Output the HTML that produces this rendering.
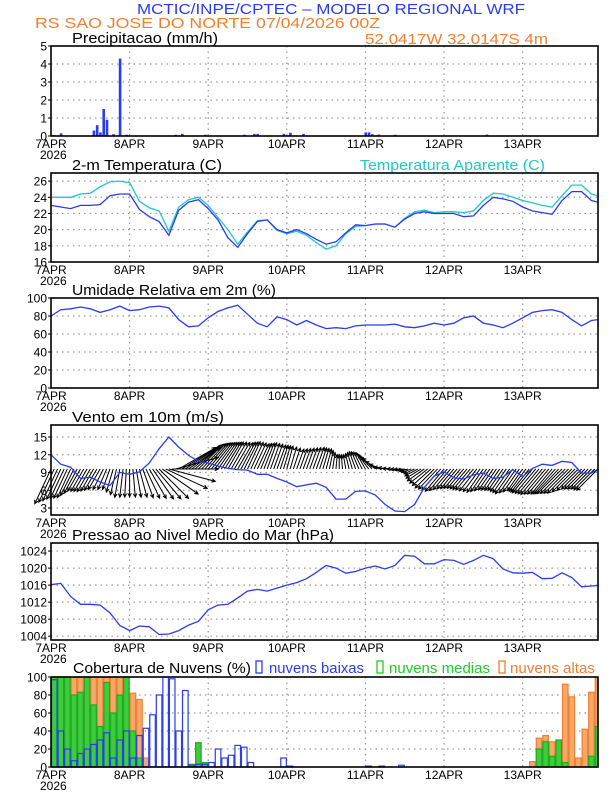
<!DOCTYPE html>
<html><head><meta charset="utf-8"><style>
html,body{margin:0;padding:0;background:#fff;}
svg{display:block;font-family:"Liberation Sans",sans-serif;}
</style></head><body>
<svg id="chart" width="612" height="792" viewBox="0 0 612 792">
<text x="331" y="14" text-anchor="middle" font-size="15" fill="#2a3cf0" textLength="388" lengthAdjust="spacingAndGlyphs">MCTIC/INPE/CPTEC – MODELO REGIONAL WRF</text>
<text x="35" y="28" font-size="15" fill="#f08030" textLength="345" lengthAdjust="spacingAndGlyphs">RS SAO JOSE DO NORTE   07/04/2026 00Z</text>
<text x="365" y="44" font-size="15" fill="#f08030" textLength="183" lengthAdjust="spacingAndGlyphs">52.0417W 32.0147S 4m</text>
</svg>
<script>
// ---- data (3-hourly, 0..168 h) ----
const tempVals=[23.0,22.8,22.6,23.0,23.0,23.1,24.2,24.4,24.4,22.5,21.6,21.0,19.3,22.4,23.4,23.7,22.6,21.2,19.0,17.8,19.5,21.0,21.2,20.0,19.6,20.0,19.5,18.8,18.2,18.5,19.6,20.6,20.5,20.7,20.7,20.3,21.3,22.0,22.2,22.0,22.0,22.0,21.6,21.7,23.0,24.0,23.8,23.5,22.8,22.3,22.1,21.9,23.6,24.7,24.7,23.6,23.4];
const appTempVals=[24.0,24.0,24.0,24.4,24.5,25.3,25.9,26.0,25.8,23.5,22.7,22.3,19.8,22.8,23.7,24.0,23.0,21.5,20.0,18.2,19.7,21.1,21.2,19.9,19.5,19.8,19.3,18.4,17.6,18.0,19.5,20.4,20.5,20.7,20.7,20.3,21.4,22.2,22.4,22.1,22.2,22.2,22.1,22.3,23.6,24.5,24.4,24.0,23.6,23.3,23.0,22.8,24.2,25.5,25.5,24.4,24.2];
const rhVals=[80,87,88,90,88,84,87,91,86,87,90,91,89,76,68,69,78,85,89,92,82,72,68,79,76,70,75,70,66,67,66,69,70,70,70,71,68,67,69,72,70,72,78,80,72,70,67,72,78,84,86,87,84,76,69,75,76];
const presVals=[1016.1,1016.4,1013.3,1011.5,1011.5,1011.3,1009.5,1006.5,1005.3,1006.4,1006.2,1004.4,1004.5,1005.3,1006.6,1007.5,1010.2,1011.3,1011.5,1013.0,1014.6,1015.0,1014.6,1015.3,1016.0,1016.6,1017.5,1019.0,1020.6,1020.0,1018.8,1019.2,1020.0,1020.5,1019.8,1020.6,1023.0,1022.8,1021.0,1021.0,1022.0,1021.8,1020.9,1021.8,1023.0,1022.2,1019.8,1018.9,1018.8,1019.0,1017.5,1017.6,1018.9,1017.8,1015.6,1015.8,1015.9];
const windSpd=[12.0,10.4,9.9,8.0,8.2,7.4,6.8,9.0,8.7,9.1,10.6,13.0,15.0,13.3,11.9,10.9,10.6,10.1,9.7,9.5,9.4,8.7,8.7,8.0,7.4,6.6,6.9,7.2,6.5,4.5,4.5,5.8,5.9,5.2,3.6,2.5,2.4,3.6,6.5,8.4,9.1,8.1,7.9,8.6,8.9,8.0,8.2,9.5,8.3,9.7,10.4,10.2,10.9,10.7,8.9,8.9,9.6];
const windDirTo=[205,205,205,210,210,210,200,190,180,165,150,135,105,60,55,45,40,35,30,30,25,25,20,20,15,20,20,20,15,5,350,340,330,310,280,270,260,245,235,225,220,220,220,220,215,215,215,215,215,220,220,220,225,225,225,225,225];
// ---- precipitation (hour, mm/h) ----
const precipHours=[0,1,3,13,14,15,16,17,19,21,23,38,40,47,59,62,63,71,73,77,96,97,98,100,105,133];
const precipVals=[0.05,0.05,0.15,0.3,0.6,0.2,1.5,0.9,0.1,4.3,0.07,0.07,0.12,0.07,0.07,0.12,0.12,0.12,0.18,0.12,0.2,0.2,0.1,0.08,0.07,0.08];
// ---- clouds (2-hourly, 0..166 h) ----
const cloudLow=[97,40,20,7,15,20,25,30,38,10,30,40,10,35,43,58,80,100,98,40,85,2,3,3,5,20,10,13,24,22,5,0,0,0,0,10,1,0,0,0,0,0,0,0,0,0,0,0,1,0,1,0,0,2,0,0,0,0,0,0,0,0,0,0,0,0,0,0,0,0,0,0,0,0,0,0,0,0,0,0,0,0,0,0];
const cloudMid=[100,100,100,80,83,100,69,45,94,60,80,100,40,10,0,0,0,0,0,0,0,3,27,5,0,0,0,0,0,0,0,0,0,0,0,0,0,0,0,0,0,0,0,0,0,0,0,0,0,0,0,0,0,0,0,0,0,0,0,0,0,0,0,0,0,0,0,0,0,0,0,0,0,0,20,28,12,30,5,0,0,0,12,45];
const cloudHigh=[100,100,100,100,100,100,100,100,100,100,100,100,82,75,10,0,0,0,0,0,0,0,0,0,0,0,0,0,0,0,0,0,0,0,0,0,0,0,0,0,0,0,0,0,0,0,0,0,0,0,0,0,0,0,0,0,0,0,0,0,0,0,0,0,0,0,0,0,0,0,0,0,0,6,32,35,28,20,92,78,10,42,83,100];
const dayLabels=["7APR","8APR","9APR","10APR","11APR","12APR","13APR"];

const NS="http://www.w3.org/2000/svg";
const svg=document.getElementById('chart');
const X0=51,X1=598,HMAX=167;
function X(h){return X0+h*(X1-X0)/HMAX;}
function mk(tag,attrs,parent){const e=document.createElementNS(NS,tag);for(const k in attrs)e.setAttribute(k,attrs[k]);(parent||svg).appendChild(e);return e;}
function yScale(top,bot,vTop,vBot){return v=>top+(vTop-v)*(bot-top)/(vTop-vBot);}

function panel(name,top,bot,vTop,vBot,ticks,title,tlen){
  const g=mk('g',{});
  
  
  const Y=yScale(top,bot,vTop,vBot);
  ticks.forEach(t=>{
    const y=Y(t);
    if(y>top+1&&y<bot-1){const l=mk('line',{x1:X0,x2:X1,y1:y,y2:y,stroke:'#999','stroke-width':1.2,'stroke-dasharray':'1.5,4'},g);
      
      }
    const tk=mk('line',{x1:X0-3,x2:X0,y1:y,y2:y,stroke:'#000'},g);
    
    
    const tx=mk('text',{x:X0-4,y:y+4.5,'text-anchor':'end','font-size':12,fill:'#000'},g);
    tx.textContent=t;
    
    
  });
  dayLabels.forEach((d,i)=>{
    const x=X(i*24);
    if(i>0){const l=mk('line',{x1:x,x2:x,y1:top,y2:bot,stroke:'#999','stroke-width':1.2,'stroke-dasharray':'1.5,4'},g);
      
      }
    const tx=mk('text',{x:x,y:bot+12,'text-anchor':'middle','font-size':12,fill:'#000'},g);
    tx.textContent=d;
    
    
  });
  const yr=mk('text',{x:40,y:bot+23,'font-size':12,fill:'#000'},g);
  yr.textContent='2026';
  
  
  if(title){const t=mk('text',{x:72,y:top-3,'font-size':15,fill:'#000',textLength:tlen,lengthAdjust:'spacingAndGlyphs'},g);
    t.textContent=title;
    
    }
  return {g,Y,top,bot};
}
function frame(p,name){
  const r=mk('rect',{x:X0,y:p.top,width:X1-X0,height:p.bot-p.top,fill:'none',stroke:'#000','stroke-width':1.6});
  
  
}
function line(p,vals,color,name){
  const pts=vals.map((v,i)=>{const h=Math.min(i*3,HMAX);return X(h).toFixed(1)+','+p.Y(v).toFixed(1);}).join(' ');
  const pl=mk('polyline',{points:pts,fill:'none',stroke:color,'stroke-width':1.3});
  
  
}

// Precip
const pP=panel('precip',46,136,5,0,[0,1,2,3,4,5],'Precipitacao (mm/h)',146);
precipHours.forEach((h,i)=>{
  const y=pP.Y(precipVals[i]);
  const b=mk('rect',{x:X(h)-1,y:y,width:2.6,height:pP.bot-y,fill:'#2a3cf0'});
  
  
});
frame(pP,'precip');

// Temperature
const pT=panel('temp',173,262,27,16,[16,18,20,22,24,26],'2-m Temperatura (C)',150);
const at=mk('text',{x:360,y:170,'font-size':15,fill:'#1fc8c8',textLength:185,lengthAdjust:'spacingAndGlyphs'});
at.textContent='Temperatura Aparente (C)';


line(pT,appTempVals,'#1fc8c8','apparent-temp-line');
line(pT,tempVals,'#2a3cf0','temp-line');
frame(pT,'temp');

// Humidity
const pH=panel('rh',298,388,100,0,[0,20,40,60,80,100],'Umidade Relativa em 2m (%)',204);
line(pH,rhVals,'#2a3cf0','rh-line');
frame(pH,'rh');

// Wind
const pW=panel('wind',425,515,17.03,1.82,[3,6,9,12,15],'Vento em 10m (m/s)',152);
const baseY=pW.Y(9.6),K=3.2;
const windG=mk('g',{});


for(let h=0;h<=HMAX;h++){
  const i=Math.floor(h/3),f=(h%3)/3,j=Math.min(i+1,windSpd.length-1);
  const s=windSpd[i]*(1-f)+windSpd[j]*f;
  let d0=windDirTo[i],d1=windDirTo[j];
  if(d1-d0>180)d1-=360; if(d0-d1>180)d1+=360;
  const a=(d0*(1-f)+d1*f)*Math.PI/180;
  const x0=X(h),x1=x0+s*K*Math.sin(a),y1=baseY-s*K*Math.cos(a);
  const ang=Math.atan2(y1-baseY,x1-x0);
  const hx1=x1-4*Math.cos(ang-0.45),hy1=y1-4*Math.sin(ang-0.45),hx2=x1-4*Math.cos(ang+0.45),hy2=y1-4*Math.sin(ang+0.45);
  const ar=mk('path',{d:`M${x0},${baseY}L${x1},${y1}M${hx1},${hy1}L${x1},${y1}L${hx2},${hy2}`,stroke:'#000','stroke-width':1,fill:'none'},windG);
  
  
}
line(pW,windSpd,'#2a3cf0','wind-speed-line');
frame(pW,'wind');

// Pressure
const pPr=panel('pressure',543,640,1025.9,1003.1,[1004,1008,1012,1016,1020,1024],'Pressao ao Nivel Medio do Mar (hPa)',262);
line(pPr,presVals,'#2a3cf0','pressure-line');
frame(pPr,'pressure');

// Clouds
const pC=panel('cloud',677,767,100,0,[0,20,40,60,80,100],null);
const ct=mk('text',{x:73,y:673,'font-size':15,fill:'#000',textLength:178,lengthAdjust:'spacingAndGlyphs'});
ct.textContent='Cobertura de Nuvens (%)';


[['#2a3cf0','none',256,269,'nuvens baixas',95,'legend-low'],['#22cc22','none',377,389,'nuvens medias',101,'legend-mid'],['#f08030','none',499,510,'nuvens altas',85,'legend-high']].forEach(l=>{
  const r=mk('rect',{x:l[2],y:661,width:6,height:12,fill:l[1],stroke:l[0],'stroke-width':1.3});
  
  
  const t=mk('text',{x:l[3],y:673,'font-size':15,fill:l[0],textLength:l[5],lengthAdjust:'spacingAndGlyphs'});
  t.textContent=l[4];
  
  
});
function cloudBars(vals,fill,stroke,name){
  vals.forEach((v,i)=>{
    if(v<=0) return;
    const h=i*2, x=X(h)+0.5, w=Math.min(X(h+2),X1)-X(h)-1, y=pC.Y(v);
    const b=mk('rect',{x:x,y:y,width:w,height:pC.bot-y,fill:fill,stroke:stroke,'stroke-width':1.2});
    
    
  });
}
cloudBars(cloudHigh,'#f6a86a','#f08030','cloud-high-bar');
cloudBars(cloudMid,'#3ccc3c','#22aa22','cloud-mid-bar');
cloudBars(cloudLow,'none','#2a3cf0','cloud-low-bar');
frame(pC,'cloud');
</script>
</body></html>
